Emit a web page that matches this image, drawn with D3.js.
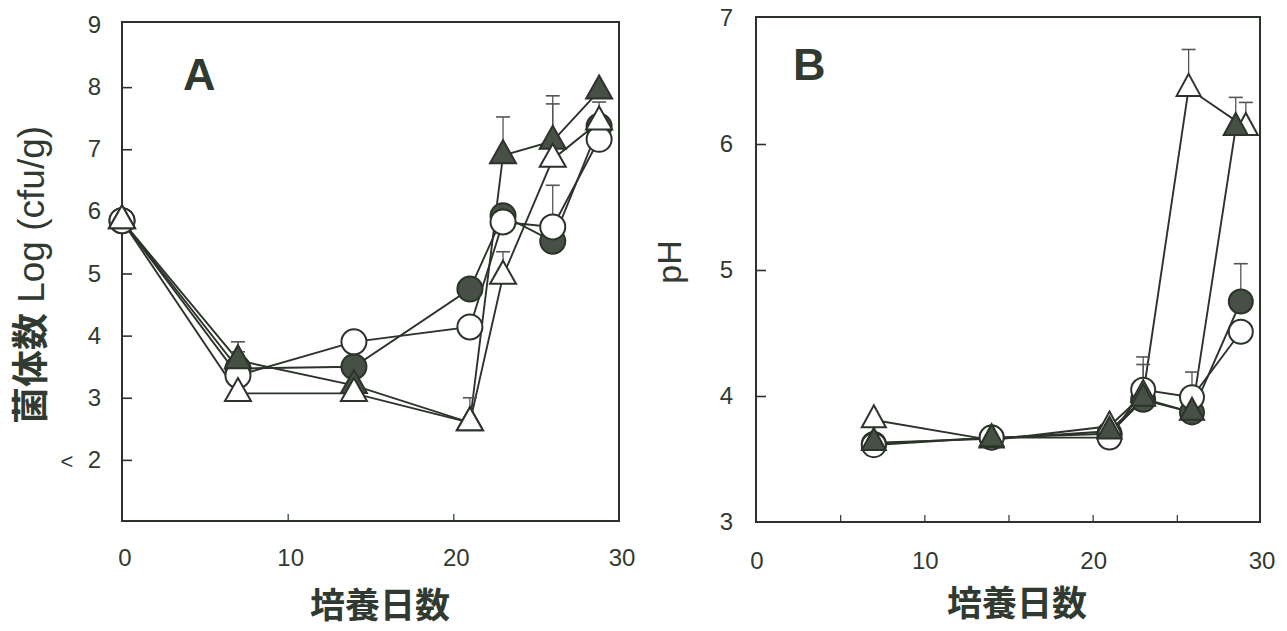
<!DOCTYPE html>
<html>
<head>
<meta charset="utf-8">
<script src="https://cdn.jsdelivr.net/npm/d3@7/dist/d3.min.js"></script>
<style>
  html, body { margin: 0; padding: 0; background: #ffffff; }
  svg { display: block; }
  text { font-family: "Liberation Sans", Arial, sans-serif; fill: #313a30; }
  .cjk { font-family: "Noto Sans CJK JP", "Noto Sans CJK SC", sans-serif; font-weight: 700; }
</style>
</head>
<body>
<svg id="chart" width="1287" height="631"></svg>
<script>
// ---- Panel A: viable count, log(cfu/g), vs. culture days ----
const daysA = [0, 7, 14, 21, 23, 26, 28.8];
const countFilledCircle   = [5.85, 3.47, 3.50, 4.75, 5.93, 5.52, 7.37];
const countOpenCircle     = [5.85, 3.36, 3.90, 4.14, 5.83, 5.75, 7.16];
const countFilledTriangle = [5.85, 3.60, 3.20, 2.60, 6.90, 7.13, 7.94];
const countOpenTriangle   = [5.85, 3.07, 3.07, 2.60, 4.96, 6.84, 7.44];
// upper error bar lengths (null = none drawn)
const errCountFilledCircle   = [null, 0.27, null, null, null, null, null];
const errCountOpenCircle     = [0.15, null, null, null, null, 0.67, null];
const errCountFilledTriangle = [null, 0.30, null, null, 0.62, 0.73, null];
const errCountOpenTriangle   = [null, null, null, 0.40, 0.39, 0.89, 0.32];
const yTicksA = [2, 3, 4, 5, 6, 7, 8, 9];
const xTickLabels = [0, 10, 20, 30];
const xMinorTicksA = [10, 20];

// ---- Panel B: pH vs. culture days ----
const daysBCircle        = [7, 14, 21, 23, 25.9, 28.8];
const daysBFilledTri     = [7, 14, 21, 23, 25.9, 28.5];
const daysBOpenTri       = [7, 14, 21, 23, 25.7, 29.1];
const phFilledCircle   = [3.62, 3.67, 3.70, 3.97, 3.87, 4.75];
const phOpenCircle     = [3.61, 3.67, 3.67, 4.05, 3.99, 4.51];
const phFilledTriangle = [3.63, 3.66, 3.72, 3.98, 3.87, 6.13];
const phOpenTriangle   = [3.81, 3.65, 3.76, 4.01, 6.44, 6.13];
const errPhFilledCircle   = [null, null, null, 0.28, null, 0.30];
const errPhOpenCircle     = [null, null, null, null, 0.20, null];
const errPhFilledTriangle = [null, null, null, null, null, 0.24];
const errPhOpenTriangle   = [null, null, null, 0.30, 0.31, 0.20];
const yTicksB = [3, 4, 5, 6, 7];
const xMinorTicksB = [5, 10, 15, 20, 25];

const INK = "#2b332a";
const FILL = "#475045";

const svg = d3.select("#chart");

function triPath(w, h) {
  // triangle centred on its centroid
  return `M0,${-2 * h / 3}L${w / 2},${h / 3}L${-w / 2},${h / 3}Z`;
}

function drawPanel(cfg) {
  const g = svg.append("g");
  const x = d3.scaleLinear().domain([0, 30]).range(cfg.xRange);
  const y = d3.scaleLinear().domain(cfg.yDomain).range(cfg.yRange);

  // frame
  g.append("rect")
    .attr("x", cfg.frame[0]).attr("y", cfg.frame[1])
    .attr("width", cfg.frame[2] - cfg.frame[0])
    .attr("height", cfg.frame[3] - cfg.frame[1])
    .attr("fill", "none").attr("stroke", INK).attr("stroke-width", 2);

  // left inward ticks
  const yAxis = d3.axisRight(y).tickValues(cfg.yTickMarks).tickSize(10).tickFormat("");
  const ya = g.append("g").attr("transform", `translate(${cfg.frame[0]},0)`).call(yAxis);
  ya.select(".domain").remove();
  ya.selectAll("line").attr("stroke", INK).attr("stroke-width", 1.6);

  // bottom inward ticks
  const xAxis = d3.axisTop(x).tickValues(cfg.xMinorTicks).tickSize(7).tickFormat("");
  const xa = g.append("g").attr("transform", `translate(0,${cfg.frame[3]})`).call(xAxis);
  xa.select(".domain").remove();
  xa.selectAll("line").attr("stroke", INK).attr("stroke-width", 1.2);

  // tick labels
  g.selectAll(".ylab").data(cfg.yTicks).enter().append("text")
    .attr("x", cfg.yLabelX).attr("y", d => y(d) + 8)
    .attr("text-anchor", "end").attr("font-size", 24)
    .text(d => d);
  g.selectAll(".xlab").data(xTickLabels).enter().append("text")
    .attr("x", d => x(d) + cfg.xLabelShift).attr("y", cfg.xLabelY)
    .attr("text-anchor", "middle").attr("font-size", 24)
    .text(d => d);

  // series lines
  cfg.series.forEach(s => {
    const pts = s.values.map((v, i) => [x(s.days[i]), y(v)]);
    g.append("path").attr("d", d3.line()(pts))
      .attr("fill", "none").attr("stroke", INK).attr("stroke-width", 1.9);
  });

  // error bars (upper half)
  cfg.series.forEach(s => {
    s.err.forEach((e, i) => {
      if (e == null) return;
      const cx = x(s.days[i]);
      const top = y(s.values[i] + e);
      g.append("line").attr("x1", cx).attr("x2", cx)
        .attr("y1", y(s.values[i])).attr("y2", top)
        .attr("stroke", "#555").attr("stroke-width", 1.3);
      g.append("line").attr("x1", cx - 7).attr("x2", cx + 7)
        .attr("y1", top).attr("y2", top)
        .attr("stroke", "#555").attr("stroke-width", 1.6);
    });
  });

  // markers
  cfg.series.forEach(s => {
    s.values.forEach((v, i) => {
      const cx = x(s.days[i]), cy = y(v);
      if (s.shape === "circle") {
        g.append("circle").attr("cx", cx).attr("cy", cy).attr("r", cfg.r)
          .attr("fill", s.filled ? FILL : "#fff")
          .attr("stroke", INK).attr("stroke-width", 2);
      } else {
        g.append("path").attr("d", triPath(cfg.triW, cfg.triH))
          .attr("transform", `translate(${cx},${cy})`)
          .attr("fill", s.filled ? FILL : "#fff")
          .attr("stroke", INK).attr("stroke-width", 2)
          .attr("stroke-linejoin", "miter");
      }
    });
  });
  return { x, y, g };
}

// Panel A
drawPanel({
  xRange: [122, 619], yDomain: [1, 9], yRange: [522, 25],
  frame: [122, 22, 619, 521],
  yTickMarks: [2, 3, 4, 5, 6, 7, 8],
  yTicks: yTicksA, yLabelX: 101,
  xMinorTicks: xMinorTicksA, xLabelShift: 3, xLabelY: 566,
  r: 12.5, triW: 26, triH: 23,
  series: [
    { shape: "circle", filled: true,  days: daysA, values: countFilledCircle,   err: errCountFilledCircle },
    { shape: "circle", filled: false, days: daysA, values: countOpenCircle,     err: errCountOpenCircle },
    { shape: "tri",    filled: true,  days: daysA, values: countFilledTriangle, err: errCountFilledTriangle },
    { shape: "tri",    filled: false, days: daysA, values: countOpenTriangle,   err: errCountOpenTriangle }
  ]
});

// Panel B
drawPanel({
  xRange: [756, 1261], yDomain: [3, 7], yRange: [522, 18],
  frame: [756, 17, 1260, 522],
  yTickMarks: [4, 5, 6],
  yTicks: yTicksB, yLabelX: 733,
  xMinorTicks: xMinorTicksB, xLabelShift: 1, xLabelY: 569,
  r: 12, triW: 24, triH: 22,
  series: [
    { shape: "circle", filled: true,  days: daysBCircle,    values: phFilledCircle,   err: errPhFilledCircle },
    { shape: "circle", filled: false, days: daysBCircle,    values: phOpenCircle,     err: errPhOpenCircle },
    { shape: "tri",    filled: false, days: daysBOpenTri,   values: phOpenTriangle,   err: errPhOpenTriangle },
    { shape: "tri",    filled: true,  days: daysBFilledTri, values: phFilledTriangle, err: errPhFilledTriangle }
  ]
});

// "<" beside the lowest count label (below detection limit)
svg.append("text").attr("x", 67).attr("y", 469).attr("text-anchor", "middle")
  .attr("font-size", 22).text("<");

// panel letters
svg.append("text").attr("x", 183).attr("y", 90).attr("font-size", 45)
  .attr("font-weight", 700).text("A");
svg.append("text").attr("x", 793).attr("y", 80).attr("font-size", 45)
  .attr("font-weight", 700).text("B");

// axis titles
const yTitleA = svg.append("text")
  .attr("transform", "translate(44,275) rotate(-90)")
  .attr("text-anchor", "middle").attr("font-size", 37);
yTitleA.append("tspan").attr("class", "cjk").text("菌体数");
yTitleA.append("tspan").text(" Log (cfu/g)");

svg.append("text").attr("transform", "translate(681,262) rotate(-90)")
  .attr("text-anchor", "middle").attr("font-size", 34).text("pH");

svg.append("text").attr("class", "cjk").attr("x", 380).attr("y", 618)
  .attr("text-anchor", "middle").attr("font-size", 35).text("培養日数");
svg.append("text").attr("class", "cjk").attr("x", 1017).attr("y", 616)
  .attr("text-anchor", "middle").attr("font-size", 35).text("培養日数");
</script>
</body>
</html>
